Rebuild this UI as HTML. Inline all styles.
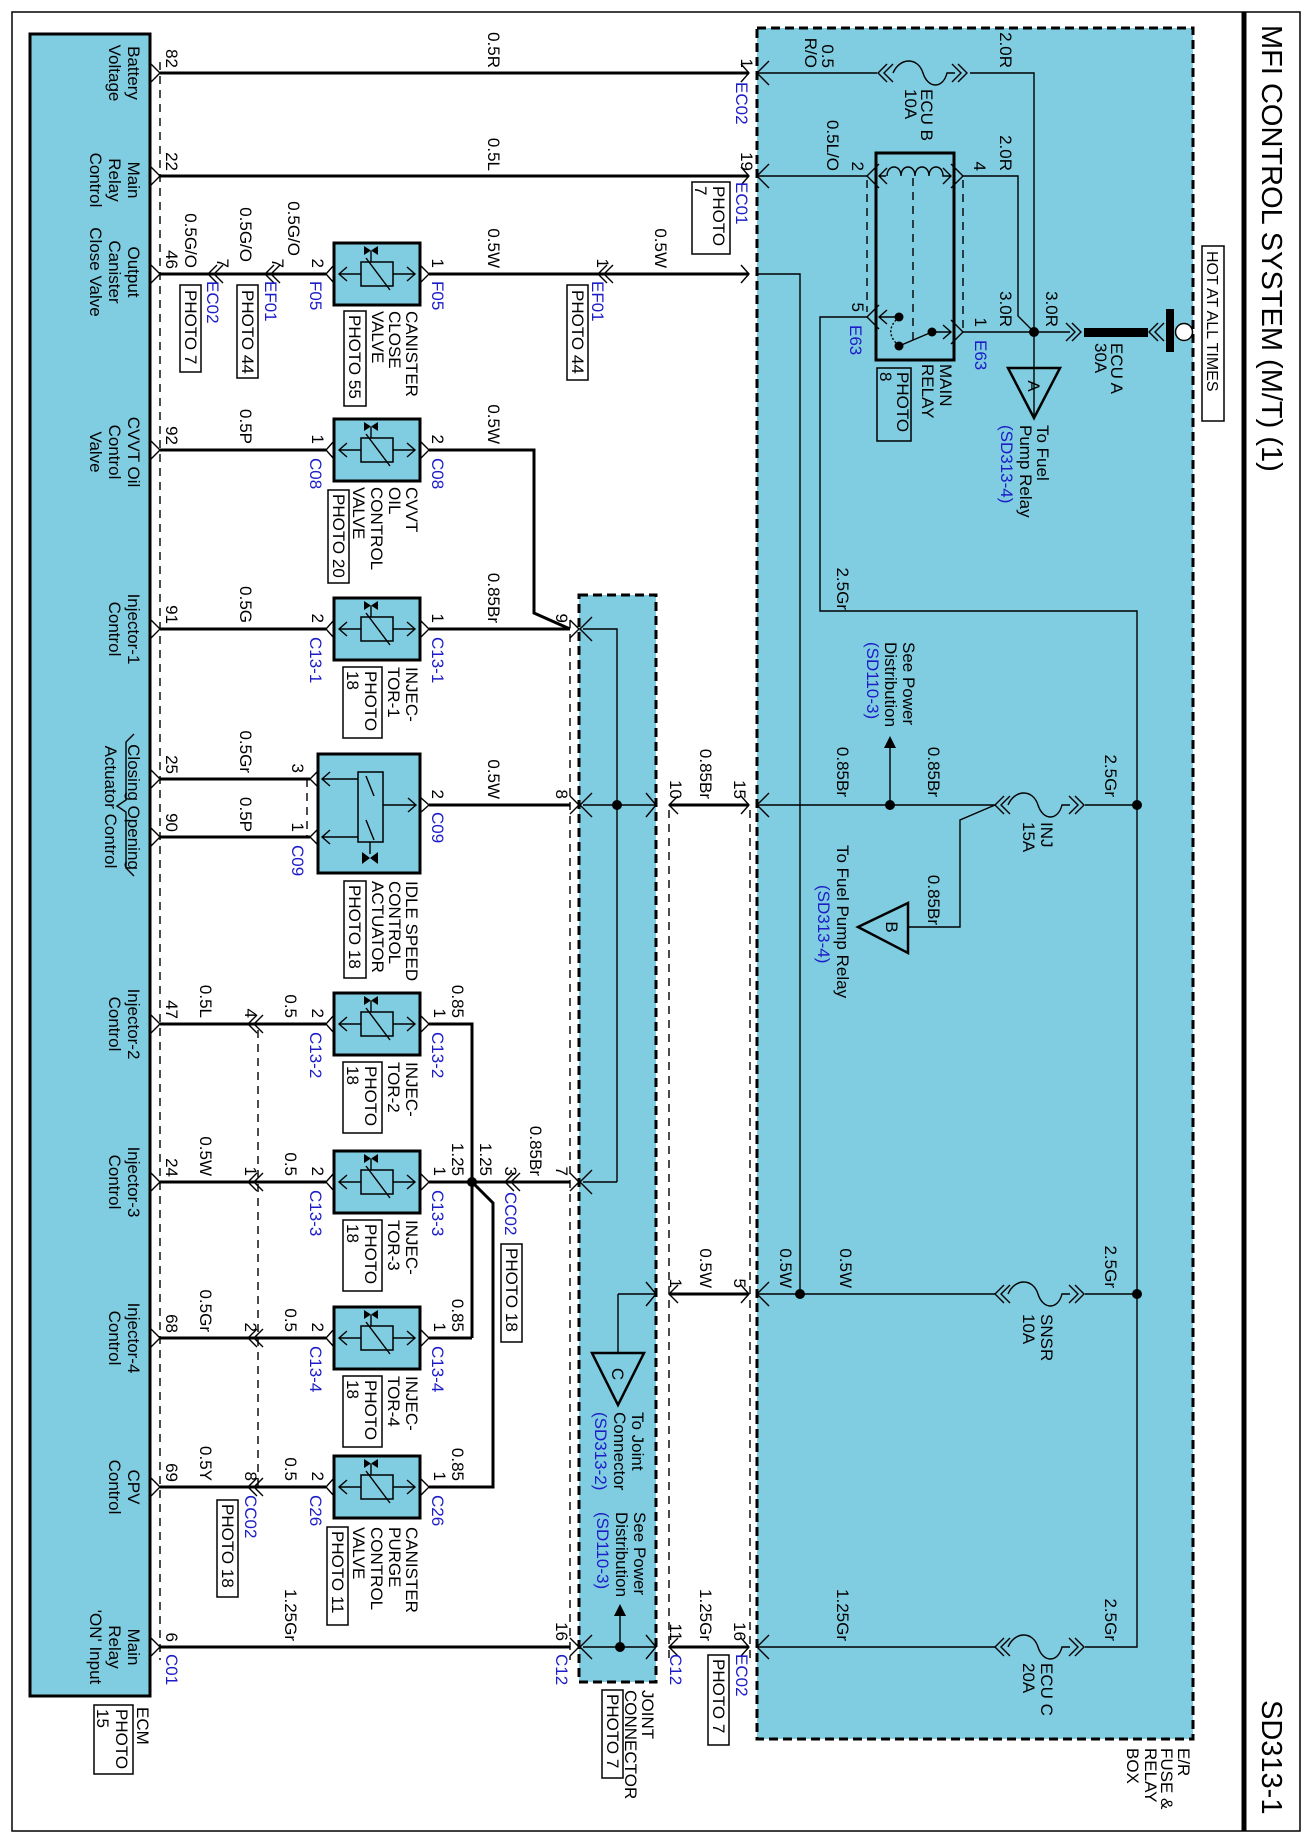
<!DOCTYPE html>
<html><head><meta charset="utf-8"><style>
html,body{margin:0;padding:0;background:#fff}
svg{display:block}
text{font-family:"Liberation Sans",Arial,sans-serif;font-size:17px;fill:#000}
.b{fill:#1c1cc8}.e{text-anchor:end}.m{text-anchor:middle}
.w{stroke:#000;stroke-width:3;fill:none}
.n{stroke:#000;stroke-width:1.4;fill:none}
.d{stroke:#000;stroke-width:1.4;fill:none;stroke-dasharray:8,6}
</style></head><body>
<svg width="1314" height="1839" viewBox="0 0 1314 1839" xmlns="http://www.w3.org/2000/svg">
<defs>
<g id="sol">
<rect x="334" y="-31" width="86" height="62" fill="#80cde1" stroke="#000" stroke-width="3"/>
<line x1="339" y1="0" x2="415" y2="0" class="n"/>
<path d="M347,-7 L339,0 L347,7 M407,-7 L415,0 L407,7" class="n"/>
<rect x="361" y="-12" width="32" height="24" fill="#80cde1" stroke="#000" stroke-width="1.5"/>
<line x1="366" y1="-16" x2="390" y2="16" class="n"/>
<path d="M364,-28 L364,-19 L371,-23.5 Z M378,-28 L378,-19 L371,-23.5 Z" fill="#000"/>
<line x1="371" y1="-23" x2="371" y2="-12" class="n"/>
<path d="M334,-9 L326,0 L334,9 M420,-9 L429,0 L420,9" class="n"/>
</g>
</defs>

<!-- outer frame -->
<rect x="12" y="12" width="1288" height="1819" fill="none" stroke="#000" stroke-width="1.5"/>
<line x1="1244" y1="12" x2="1244" y2="1831" stroke="#000" stroke-width="5"/>
<text transform="translate(1262,25) rotate(90)" style="font-size:29px">MFI CONTROL SYSTEM (M/T) (1)</text>
<text transform="translate(1262,1700) rotate(90)" style="font-size:29px">SD313-1</text>

<!-- boxes -->
<rect x="757" y="28" width="436" height="1711" fill="#80cde1" stroke="#000" stroke-width="3" stroke-dasharray="9,5"/>
<rect x="579" y="595" width="77" height="1087" fill="#80cde1" stroke="#000" stroke-width="3" stroke-dasharray="9,5"/>
<rect x="30" y="34" width="120" height="1662" fill="#80cde1" stroke="#000" stroke-width="3"/>

<!-- dashed connector lines -->
<line x1="160" y1="62" x2="160" y2="1660" class="d"/>
<line x1="258" y1="1030" x2="258" y2="1490" class="d"/>
<line x1="570" y1="620" x2="570" y2="1660" class="d"/>
<line x1="669" y1="810" x2="669" y2="1660" class="d"/>
<line x1="750" y1="810" x2="750" y2="1660" class="d"/>
<line x1="307" y1="779" x2="307" y2="837" class="d"/>

<!-- thick wires -->
<path class="w" d="M160,73 H749 M160,176 H749 M160,274 H326 M429,274 H749 M160,450 H326 M429,450 H534 V613 L570,629 M160,629 H326 M429,629 H570 M160,779 H310 M160,837 H310 M429,805 H570 M160,1024 H326 M429,1024 H472 V1338 M160,1182 H326 M429,1182 H570 M160,1338 H326 M429,1338 H472 M160,1487 H326 M429,1487 H493 V1203 L472,1182 M160,1647 H570 M669,805 H749 M669,1294 H749 M669,1647 H749"/>
<circle cx="472" cy="1182" r="5"/>

<!-- ECM pin chevrons -->
<path class="n" d="M150,63 L160,73 L150,83 M150,166 L160,176 L150,186 M150,264 L160,274 L150,284 M150,440 L160,450 L150,460 M150,619 L160,629 L150,639 M150,769 L160,779 L150,789 M150,827 L160,837 L150,847 M150,1014 L160,1024 L150,1034 M150,1172 L160,1182 L150,1192 M150,1328 L160,1338 L150,1348 M150,1477 L160,1487 L150,1497 M150,1637 L160,1647 L150,1657"/>
<!-- inline double chevrons -->
<path class="n" d="M217,265 L208,274 L217,283 M223,265 L214,274 L223,283 M274,265 L265,274 L274,283 M280,265 L271,274 L280,283 M607,265 L598,274 L607,283 M613,265 L604,274 L613,283"/>
<path class="n" d="M257,1015 L248,1024 L257,1033 M263,1015 L254,1024 L263,1033 M257,1173 L248,1182 L257,1191 M263,1173 L254,1182 L263,1191 M257,1329 L248,1338 L257,1347 M263,1329 L254,1338 L263,1347 M257,1478 L248,1487 L257,1496 M263,1478 L254,1487 L263,1496 M514,1173 L505,1182 L514,1191 M520,1173 L511,1182 L520,1191"/>

<!-- components -->
<use href="#sol" transform="translate(0,274)"/>
<use href="#sol" transform="translate(0,450)"/>
<use href="#sol" transform="translate(0,629)"/>
<use href="#sol" transform="translate(0,1024)"/>
<use href="#sol" transform="translate(0,1182)"/>
<use href="#sol" transform="translate(0,1338)"/>
<use href="#sol" transform="translate(0,1487)"/>
<!-- ISC actuator -->
<rect x="318" y="754" width="102" height="119" fill="#80cde1" stroke="#000" stroke-width="3"/>
<rect x="358" y="772" width="25" height="70" fill="#80cde1" stroke="#000" stroke-width="1.5"/>
<path class="n" d="M322,779 H358 M322,837 H358 M383,805 H416 M330,772 L322,779 L330,786 M330,830 L322,837 L330,844 M408,798 L416,805 L408,812 M318,771 L310,779 L318,787 M318,829 L310,837 L318,845 M420,797 L429,805 L420,813 M366,776 L374,796 M366,820 L374,840 M370,842 V854"/>
<path d="M362,852 L362,864 L370,858 Z M378,852 L378,864 L370,858 Z" fill="#000"/>

<!-- joint connector internals -->
<path class="n" d="M583,629 H617 V1182 M583,1182 H617 M583,805 H656 M618,1294 H656 M618,1294 V1353 M583,1647 H656 M620,1647 V1612"/>
<circle cx="617" cy="805" r="5"/><circle cx="620" cy="1647" r="5"/>
<path d="M620,1604 L614,1616 L626,1616 Z"/>
<path d="M592,1353 L644,1353 L618,1405 Z" fill="none" stroke="#000" stroke-width="2.5"/>
<path class="n" d="M570,620 L579,629 L570,638 M592,617 L580,629 L592,641 M570,796 L579,805 L570,814 M592,793 L580,805 L592,817 M570,1173 L579,1182 L570,1191 M592,1170 L580,1182 L592,1194 M570,1638 L579,1647 L570,1656 M592,1635 L580,1647 L592,1659 M646,793 L656,805 L646,817 M646,1282 L656,1294 L646,1306 M646,1635 L656,1647 L646,1659 M678,796 L669,805 L678,814 M678,1285 L669,1294 L678,1303 M678,1638 L669,1647 L678,1656"/>

<!-- fuse box edge connectors -->
<path class="n" d="M741,64 L749,73 L741,82 M769,61 L757,73 L769,85 M741,167 L749,176 L741,185 M769,164 L757,176 L769,188 M741,265 L749,274 L741,283 M741,796 L749,805 L741,814 M769,793 L757,805 L769,817 M741,1285 L749,1294 L741,1303 M769,1282 L757,1294 L769,1306 M741,1638 L749,1647 L741,1656 M769,1635 L757,1647 L769,1659"/>

<!-- fuse box wiring -->
<path class="n" d="M757,73 H877 M970,73 H1034 V417 M757,176 H867 M963,176 H1018 V316 L1034,332 M757,274 H800 V1294 M867,317 H820 V611 H1137 V1647 H1085 M963,332 H1070 M757,805 H995 M1085,805 H1137 M757,1294 H995 M1085,1294 H1137 M757,1647 H995 M890,805 V746 M995,805 L960,820 V927 H908"/>
<circle cx="1034" cy="332" r="5"/><circle cx="890" cy="805" r="5"/><circle cx="1137" cy="805" r="5"/><circle cx="800" cy="1294" r="5"/><circle cx="1137" cy="1294" r="5"/>
<path d="M890,736 L884,748 L896,748 Z"/>
<!-- fuses -->
<g class="n">
<path d="M887,64 L878,73 L887,82 M893,64 L884,73 L893,82 M893,73 C900,57 918,57 923,73 C928,89 943,89 947,73 H955 M952,64 L961,73 L952,82 M958,64 L967,73 L958,82"/>
<path d="M1004,796 L995,805 L1004,814 M1010,796 L1001,805 L1010,814 M1008,805 C1015,789 1033,789 1038,805 C1043,821 1058,821 1062,805 H1070 M1069,796 L1078,805 L1069,814 M1075,796 L1084,805 L1075,814"/>
<path d="M1004,1285 L995,1294 L1004,1303 M1010,1285 L1001,1294 L1010,1303 M1008,1294 C1015,1278 1033,1278 1038,1294 C1043,1310 1058,1310 1062,1294 H1070 M1069,1285 L1078,1294 L1069,1303 M1075,1285 L1084,1294 L1075,1303"/>
<path d="M1004,1638 L995,1647 L1004,1656 M1010,1638 L1001,1647 L1010,1656 M1008,1647 C1015,1631 1033,1631 1038,1647 C1043,1663 1058,1663 1062,1647 H1070 M1069,1638 L1078,1647 L1069,1656 M1075,1638 L1084,1647 L1075,1656"/>
<path d="M1066,323 L1075,332 L1066,341 M1072,323 L1081,332 L1072,341 M1158,323 L1149,332 L1158,341 M1164,323 L1155,332 L1164,341"/>
</g>
<rect x="1084" y="328" width="64" height="9" fill="#000"/>
<rect x="1166" y="309" width="8" height="43" fill="#000"/>
<circle cx="1184" cy="332" r="8.5" fill="#fff" stroke="#000" stroke-width="1.5"/>
<!-- triangles -->
<path d="M1008,368 L1060,368 L1034,418 Z" fill="none" stroke="#000" stroke-width="2.5"/>
<path d="M858,927 L908,903 L908,953 Z" fill="none" stroke="#000" stroke-width="2.5"/>
<!-- relay -->
<rect x="876" y="153" width="78" height="207" fill="#80cde1" stroke="#000" stroke-width="3"/>
<path class="n" d="M879,164 L867,176 L879,188 M951,164 L963,176 L951,188 M879,305 L867,317 L879,329 M951,320 L963,332 L951,344 M887,168 L879,176 L887,184 M943,168 L951,176 L943,184 M879,176 H886 M887,176 C887,164 901,164 901,176 C901,164 915,164 915,176 C915,164 929,164 929,176 C929,164 943,164 943,176 H951 M879,317 H899 M932,332 H951 M943,325 L951,332 L943,339 M887,310 L879,317 L887,324 M899,346 L932,332"/>
<path d="M899,317 C888,327 888,336 899,346" fill="none" stroke="#000" stroke-width="1.4" stroke-dasharray="2,2"/>
<path class="d" d="M867,180 V312 M963,180 V328 M913,178 V340"/>
<circle cx="899" cy="317" r="4.5"/><circle cx="899" cy="346" r="4.5"/><circle cx="932" cy="332" r="4.5"/>

<!-- photo boxes -->
<g fill="none" stroke="#000" stroke-width="1.5">
<rect x="180" y="285" width="21" height="87"/><rect x="237" y="285" width="21" height="93"/><rect x="567" y="285" width="21" height="95"/>
<rect x="344" y="311" width="22" height="95"/><rect x="328" y="490" width="21" height="93"/>
<rect x="343" y="667" width="39" height="71"/><rect x="344" y="881" width="22" height="97"/>
<rect x="343" y="1062" width="39" height="71"/><rect x="343" y="1220" width="39" height="71"/><rect x="343" y="1376" width="39" height="71"/>
<rect x="501" y="1244" width="21" height="98"/><rect x="217" y="1500" width="21" height="97"/><rect x="327" y="1527" width="21" height="98"/>
<rect x="94" y="1705" width="39" height="69"/><rect x="602" y="1690" width="21" height="88"/><rect x="708" y="1655" width="21" height="90"/>
<rect x="692" y="182" width="38" height="72"/><rect x="877" y="368" width="34" height="73"/><rect x="1202" y="246" width="22" height="175"/>
</g>
<!-- brace -->
<path class="n" d="M134,734 L126,742 V800 L117,806 L126,812 V868 L134,876"/>

<!-- ===== TEXT ===== -->
<g>
<!-- ECM labels -->
<text class="m" transform="translate(128,73) rotate(90)">Battery</text>
<text class="m" transform="translate(109,73) rotate(90)">Voltage</text>
<text class="m" transform="translate(128,180) rotate(90)">Main</text>
<text class="m" transform="translate(109,180) rotate(90)">Relay</text>
<text class="m" transform="translate(90,180) rotate(90)">Control</text>
<text class="m" transform="translate(128,272) rotate(90)">Output</text>
<text class="m" transform="translate(109,272) rotate(90)">Canister</text>
<text class="m" transform="translate(90,272) rotate(90)">Close Valve</text>
<text class="m" transform="translate(128,452) rotate(90)">CVVT Oil</text>
<text class="m" transform="translate(109,452) rotate(90)">Control</text>
<text class="m" transform="translate(90,452) rotate(90)">Valve</text>
<text class="m" transform="translate(128,629) rotate(90)">Injector-1</text>
<text class="m" transform="translate(109,629) rotate(90)">Control</text>
<text class="m" transform="translate(128,807) rotate(90)">Closing Opening</text>
<text class="m" transform="translate(105,807) rotate(90)">Actuator Control</text>
<text class="m" transform="translate(128,1024) rotate(90)">Injector-2</text>
<text class="m" transform="translate(109,1024) rotate(90)">Control</text>
<text class="m" transform="translate(128,1182) rotate(90)">Injector-3</text>
<text class="m" transform="translate(109,1182) rotate(90)">Control</text>
<text class="m" transform="translate(128,1338) rotate(90)">Injector-4</text>
<text class="m" transform="translate(109,1338) rotate(90)">Control</text>
<text class="m" transform="translate(128,1487) rotate(90)">CPV</text>
<text class="m" transform="translate(109,1487) rotate(90)">Control</text>
<text class="m" transform="translate(128,1647) rotate(90)">Main</text>
<text class="m" transform="translate(109,1647) rotate(90)">Relay</text>
<text class="m" transform="translate(90,1647) rotate(90)">'ON' Input</text>
<text transform="translate(137,1707) rotate(90)">ECM</text>
<text transform="translate(116,1709) rotate(90)">PHOTO</text>
<text transform="translate(97,1709) rotate(90)">15</text>
<!-- ECM pins -->
<text class="e" transform="translate(166,68) rotate(90)">82</text>
<text class="e" transform="translate(166,171) rotate(90)">22</text>
<text class="e" transform="translate(166,269) rotate(90)">46</text>
<text class="e" transform="translate(166,445) rotate(90)">92</text>
<text class="e" transform="translate(166,624) rotate(90)">91</text>
<text class="e" transform="translate(166,774) rotate(90)">25</text>
<text class="e" transform="translate(166,832) rotate(90)">90</text>
<text class="e" transform="translate(166,1019) rotate(90)">47</text>
<text class="e" transform="translate(166,1177) rotate(90)">24</text>
<text class="e" transform="translate(166,1333) rotate(90)">68</text>
<text class="e" transform="translate(166,1482) rotate(90)">69</text>
<text class="e" transform="translate(166,1642) rotate(90)">6</text>
<text class="b" transform="translate(166,1654) rotate(90)">C01</text>
<!-- top wires -->
<text class="e" transform="translate(488,68) rotate(90)">0.5R</text>
<text class="e" transform="translate(488,171) rotate(90)">0.5L</text>
<!-- canister close row -->
<text class="e" transform="translate(185,268) rotate(90)">0.5G/O</text>
<text class="e" transform="translate(240,262) rotate(90)">0.5G/O</text>
<text class="e" transform="translate(288,256) rotate(90)">0.5G/O</text>
<text class="e" transform="translate(217,268) rotate(90)">7</text>
<text class="e" transform="translate(272,268) rotate(90)">7</text>
<text class="e" transform="translate(312,268) rotate(90)">2</text>
<text class="b" transform="translate(207,281) rotate(90)">EC02</text>
<text class="b" transform="translate(265,281) rotate(90)">EF01</text>
<text class="b" transform="translate(310,281) rotate(90)">F05</text>
<text class="b" transform="translate(432,281) rotate(90)">F05</text>
<text class="e" transform="translate(432,268) rotate(90)">1</text>
<text class="e" transform="translate(488,268) rotate(90)">0.5W</text>
<text class="e" transform="translate(597,268) rotate(90)">1</text>
<text class="b" transform="translate(592,281) rotate(90)">EF01</text>
<text class="e" transform="translate(655,268) rotate(90)">0.5W</text>
<text transform="translate(185,290) rotate(90)">PHOTO 7</text>
<text transform="translate(242,290) rotate(90)">PHOTO 44</text>
<text transform="translate(572,290) rotate(90)">PHOTO 44</text>
<text transform="translate(406,311) rotate(90)">CANISTER</text>
<text transform="translate(389,311) rotate(90)">CLOSE</text>
<text transform="translate(372,311) rotate(90)">VALVE</text>
<text transform="translate(349,315) rotate(90)">PHOTO 55</text>
<!-- CVVT -->
<text class="e" transform="translate(240,444) rotate(90)">0.5P</text>
<text class="e" transform="translate(312,444) rotate(90)">1</text>
<text class="b" transform="translate(310,458) rotate(90)">C08</text>
<text class="e" transform="translate(432,444) rotate(90)">2</text>
<text class="b" transform="translate(432,458) rotate(90)">C08</text>
<text class="e" transform="translate(488,444) rotate(90)">0.5W</text>
<text transform="translate(406,487) rotate(90)">CVVT</text>
<text transform="translate(389,487) rotate(90)">OIL</text>
<text transform="translate(371,487) rotate(90)">CONTROL</text>
<text transform="translate(353,487) rotate(90)">VALVE</text>
<text transform="translate(333,494) rotate(90)">PHOTO 20</text>
<!-- Inj1 -->
<text class="e" transform="translate(240,623) rotate(90)">0.5G</text>
<text class="e" transform="translate(312,623) rotate(90)">2</text>
<text class="b" transform="translate(310,637) rotate(90)">C13-1</text>
<text class="e" transform="translate(432,623) rotate(90)">1</text>
<text class="b" transform="translate(432,637) rotate(90)">C13-1</text>
<text class="e" transform="translate(488,623) rotate(90)">0.85Br</text>
<text class="e" transform="translate(556,623) rotate(90)">9</text>
<text transform="translate(406,667) rotate(90)">INJEC-</text>
<text transform="translate(388,667) rotate(90)">TOR-1</text>
<text transform="translate(365,671) rotate(90)">PHOTO</text>
<text transform="translate(347,671) rotate(90)">18</text>
<!-- ISC -->
<text class="e" transform="translate(240,773) rotate(90)">0.5Gr</text>
<text class="e" transform="translate(240,832) rotate(90)">0.5P</text>
<text class="e" transform="translate(292,773) rotate(90)">3</text>
<text class="e" transform="translate(292,832) rotate(90)">1</text>
<text class="b" transform="translate(292,845) rotate(90)">C09</text>
<text class="e" transform="translate(432,799) rotate(90)">2</text>
<text class="b" transform="translate(432,812) rotate(90)">C09</text>
<text class="e" transform="translate(488,799) rotate(90)">0.5W</text>
<text class="e" transform="translate(556,799) rotate(90)">8</text>
<text transform="translate(406,881) rotate(90)">IDLE SPEED</text>
<text transform="translate(389,881) rotate(90)">CONTROL</text>
<text transform="translate(372,881) rotate(90)">ACTUATOR</text>
<text transform="translate(349,885) rotate(90)">PHOTO 18</text>
<!-- Inj2 -->
<text class="e" transform="translate(200,1018) rotate(90)">0.5L</text>
<text class="e" transform="translate(245,1018) rotate(90)">4</text>
<text class="e" transform="translate(285,1018) rotate(90)">0.5</text>
<text class="e" transform="translate(312,1018) rotate(90)">2</text>
<text class="b" transform="translate(310,1032) rotate(90)">C13-2</text>
<text class="e" transform="translate(434,1018) rotate(90)">1</text>
<text class="b" transform="translate(432,1032) rotate(90)">C13-2</text>
<text class="e" transform="translate(452,1018) rotate(90)">0.85</text>
<text transform="translate(406,1062) rotate(90)">INJEC-</text>
<text transform="translate(388,1062) rotate(90)">TOR-2</text>
<text transform="translate(365,1066) rotate(90)">PHOTO</text>
<text transform="translate(347,1066) rotate(90)">18</text>
<!-- Inj3 -->
<text class="e" transform="translate(200,1176) rotate(90)">0.5W</text>
<text class="e" transform="translate(245,1176) rotate(90)">1</text>
<text class="e" transform="translate(285,1176) rotate(90)">0.5</text>
<text class="e" transform="translate(312,1176) rotate(90)">2</text>
<text class="b" transform="translate(310,1190) rotate(90)">C13-3</text>
<text class="e" transform="translate(434,1176) rotate(90)">1</text>
<text class="e" transform="translate(452,1176) rotate(90)">1.25</text>
<text class="b" transform="translate(432,1190) rotate(90)">C13-3</text>
<text class="e" transform="translate(480,1176) rotate(90)">1.25</text>
<text class="e" transform="translate(505,1176) rotate(90)">3</text>
<text class="e" transform="translate(530,1176) rotate(90)">0.85Br</text>
<text class="e" transform="translate(556,1176) rotate(90)">7</text>
<text class="b" transform="translate(505,1192) rotate(90)">CC02</text>
<text transform="translate(506,1248) rotate(90)">PHOTO 18</text>
<text transform="translate(406,1220) rotate(90)">INJEC-</text>
<text transform="translate(388,1220) rotate(90)">TOR-3</text>
<text transform="translate(365,1224) rotate(90)">PHOTO</text>
<text transform="translate(347,1224) rotate(90)">18</text>
<!-- Inj4 -->
<text class="e" transform="translate(200,1332) rotate(90)">0.5Gr</text>
<text class="e" transform="translate(245,1332) rotate(90)">2</text>
<text class="e" transform="translate(285,1332) rotate(90)">0.5</text>
<text class="e" transform="translate(312,1332) rotate(90)">2</text>
<text class="b" transform="translate(310,1346) rotate(90)">C13-4</text>
<text class="e" transform="translate(434,1332) rotate(90)">1</text>
<text class="b" transform="translate(432,1346) rotate(90)">C13-4</text>
<text class="e" transform="translate(452,1332) rotate(90)">0.85</text>
<text transform="translate(406,1376) rotate(90)">INJEC-</text>
<text transform="translate(388,1376) rotate(90)">TOR-4</text>
<text transform="translate(365,1380) rotate(90)">PHOTO</text>
<text transform="translate(347,1380) rotate(90)">18</text>
<!-- CPV -->
<text class="e" transform="translate(200,1481) rotate(90)">0.5Y</text>
<text class="e" transform="translate(245,1481) rotate(90)">8</text>
<text class="b" transform="translate(245,1495) rotate(90)">CC02</text>
<text transform="translate(222,1504) rotate(90)">PHOTO 18</text>
<text class="e" transform="translate(285,1481) rotate(90)">0.5</text>
<text class="e" transform="translate(312,1481) rotate(90)">2</text>
<text class="b" transform="translate(310,1495) rotate(90)">C26</text>
<text class="e" transform="translate(434,1481) rotate(90)">1</text>
<text class="b" transform="translate(432,1495) rotate(90)">C26</text>
<text class="e" transform="translate(452,1481) rotate(90)">0.85</text>
<text transform="translate(406,1527) rotate(90)">CANISTER</text>
<text transform="translate(389,1527) rotate(90)">PURGE</text>
<text transform="translate(371,1527) rotate(90)">CONTROL</text>
<text transform="translate(353,1527) rotate(90)">VALVE</text>
<text transform="translate(332,1531) rotate(90)">PHOTO 11</text>
<!-- main relay on row -->
<text class="e" transform="translate(285,1641) rotate(90)">1.25Gr</text>
<text class="e" transform="translate(556,1641) rotate(90)">16</text>
<text class="b" transform="translate(556,1654) rotate(90)">C12</text>
<text transform="translate(642,1690) rotate(90)">JOINT</text>
<text transform="translate(625,1690) rotate(90)">CONNECTOR</text>
<text transform="translate(607,1694) rotate(90)">PHOTO 7</text>
<!-- joint right -->
<text class="m" transform="translate(612,1374) rotate(90)">C</text>
<text transform="translate(632,1412) rotate(90)">To Joint</text>
<text transform="translate(614,1412) rotate(90)">Connector</text>
<text class="b" transform="translate(595,1412) rotate(90)">(SD313-2)</text>
<text transform="translate(634,1512) rotate(90)">See Power</text>
<text transform="translate(616,1512) rotate(90)">Distribution</text>
<text class="b" transform="translate(597,1512) rotate(90)">(SD110-3)</text>
<!-- joint-fuse -->
<text class="e" transform="translate(670,799) rotate(90)">10</text>
<text class="e" transform="translate(700,799) rotate(90)">0.85Br</text>
<text class="e" transform="translate(734,799) rotate(90)">15</text>
<text class="e" transform="translate(670,1288) rotate(90)">1</text>
<text class="e" transform="translate(700,1288) rotate(90)">0.5W</text>
<text class="e" transform="translate(734,1288) rotate(90)">5</text>
<text class="e" transform="translate(670,1641) rotate(90)">11</text>
<text class="e" transform="translate(700,1641) rotate(90)">1.25Gr</text>
<text class="e" transform="translate(734,1641) rotate(90)">16</text>
<text class="b" transform="translate(670,1654) rotate(90)">C12</text>
<text class="b" transform="translate(736,1654) rotate(90)">EC02</text>
<text transform="translate(713,1659) rotate(90)">PHOTO 7</text>
<!-- fuse box -->
<text class="e" transform="translate(741,68) rotate(90)">1</text>
<text class="b" transform="translate(736,82) rotate(90)">EC02</text>
<text class="e" transform="translate(822,68) rotate(90)">0.5</text>
<text class="e" transform="translate(805,68) rotate(90)">R/O</text>
<text transform="translate(921,89) rotate(90)">ECU B</text>
<text transform="translate(905,89) rotate(90)">10A</text>
<text class="e" transform="translate(1000,68) rotate(90)">2.0R</text>
<text class="e" transform="translate(741,171) rotate(90)">19</text>
<text class="b" transform="translate(736,182) rotate(90)">EC01</text>
<text transform="translate(713,186) rotate(90)">PHOTO</text>
<text transform="translate(695,186) rotate(90)">7</text>
<text class="e" transform="translate(827,171) rotate(90)">0.5L/O</text>
<text class="e" transform="translate(852,171) rotate(90)">2</text>
<text class="e" transform="translate(974,171) rotate(90)">4</text>
<text class="e" transform="translate(1000,171) rotate(90)">2.0R</text>
<text class="e" transform="translate(852,312) rotate(90)">5</text>
<text class="b" transform="translate(850,325) rotate(90)">E63</text>
<text class="e" transform="translate(975,327) rotate(90)">1</text>
<text class="b" transform="translate(975,340) rotate(90)">E63</text>
<text class="e" transform="translate(1000,327) rotate(90)">3.0R</text>
<text class="e" transform="translate(1046,327) rotate(90)">3.0R</text>
<text transform="translate(940,364) rotate(90)">MAIN</text>
<text transform="translate(922,364) rotate(90)">RELAY</text>
<text transform="translate(897,372) rotate(90)">PHOTO</text>
<text transform="translate(880,372) rotate(90)">8</text>
<text class="m" transform="translate(1028,386) rotate(90)">A</text>
<text transform="translate(1037,425) rotate(90)">To Fuel</text>
<text transform="translate(1020,425) rotate(90)">Pump Relay</text>
<text class="b" transform="translate(1001,425) rotate(90)">(SD313-4)</text>
<text transform="translate(1111,343) rotate(90)">ECU A</text>
<text transform="translate(1095,343) rotate(90)">30A</text>
<text transform="translate(1207,251) rotate(90)" style="font-size:16px">HOT AT ALL TIMES</text>
<text class="e" transform="translate(837,610) rotate(90)">2.5Gr</text>
<text transform="translate(903,642) rotate(90)">See Power</text>
<text transform="translate(885,642) rotate(90)">Distribution</text>
<text class="b" transform="translate(867,642) rotate(90)">(SD110-3)</text>
<text class="e" transform="translate(837,797) rotate(90)">0.85Br</text>
<text class="e" transform="translate(928,797) rotate(90)">0.85Br</text>
<text class="e" transform="translate(1105,797) rotate(90)">2.5Gr</text>
<text transform="translate(1041,822) rotate(90)">INJ</text>
<text transform="translate(1023,822) rotate(90)">15A</text>
<text class="e" transform="translate(928,925) rotate(90)">0.85Br</text>
<text class="m" transform="translate(886,927) rotate(90)">B</text>
<text transform="translate(837,845) rotate(90)">To Fuel Pump Relay</text>
<text class="b" transform="translate(818,885) rotate(90)">(SD313-4)</text>
<text class="e" transform="translate(780,1288) rotate(90)">0.5W</text>
<text class="e" transform="translate(840,1288) rotate(90)">0.5W</text>
<text transform="translate(1041,1314) rotate(90)">SNSR</text>
<text transform="translate(1023,1314) rotate(90)">10A</text>
<text class="e" transform="translate(1105,1288) rotate(90)">2.5Gr</text>
<text class="e" transform="translate(837,1641) rotate(90)">1.25Gr</text>
<text transform="translate(1041,1663) rotate(90)">ECU C</text>
<text transform="translate(1023,1663) rotate(90)">20A</text>
<text class="e" transform="translate(1105,1641) rotate(90)">2.5Gr</text>
<text transform="translate(1178,1748) rotate(90)">E/R</text>
<text transform="translate(1161,1748) rotate(90)">FUSE &amp;</text>
<text transform="translate(1145,1748) rotate(90)">RELAY</text>
<text transform="translate(1127,1748) rotate(90)">BOX</text>
</g>
</svg>
</body></html>
